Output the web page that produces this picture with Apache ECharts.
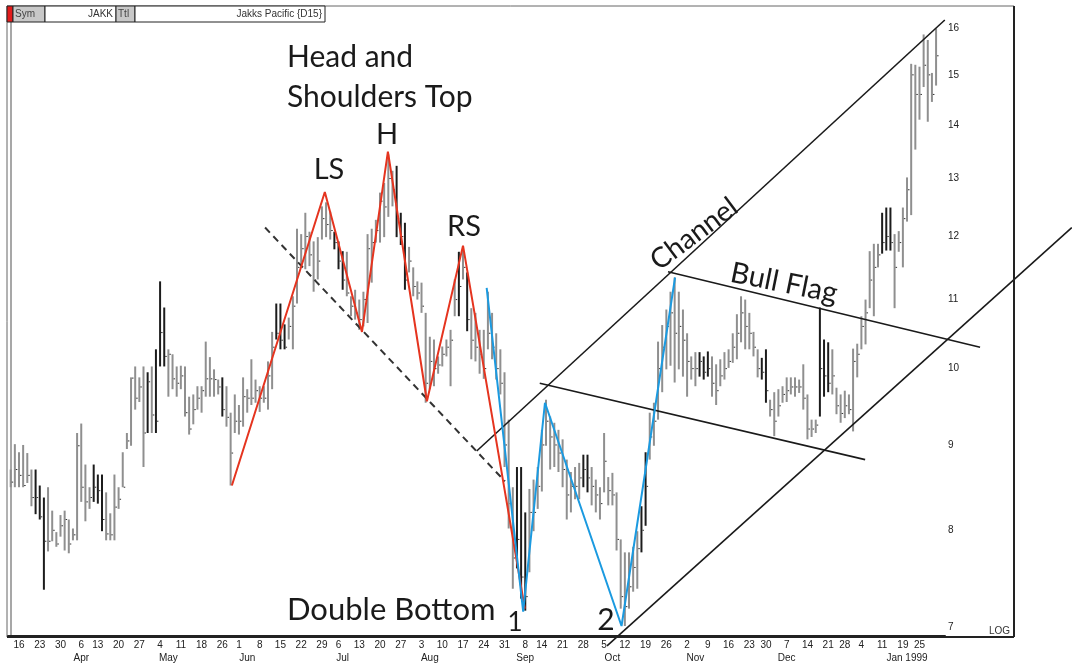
<!DOCTYPE html>
<html><head><meta charset="utf-8">
<script src="https://cdn.jsdelivr.net/npm/echarts@6/dist/echarts.min.js"></script>
<style>html,body{margin:0;padding:0;background:#fff}#c{width:1072px;height:670px}</style>
</head><body><div id="c"></div>
<script>
// ---- data ----
const startDate = '1998-03-12', endDate = '1999-01-29';
const holidays = ['1998-04-10','1998-05-25','1998-07-03','1998-09-07','1998-11-26','1998-12-25','1999-01-01','1999-01-18'];
const highs = [
8.70,9.01,8.91,9.00,8.90,8.70,8.70,8.51,8.37,8.49,
8.22,7.98,8.17,8.22,8.12,8.02,9.15,9.27,8.76,8.49,
8.76,8.64,8.64,8.43,8.19,8.64,8.49,8.91,9.15,9.88,
10.03,9.88,10.03,9.95,10.03,10.27,11.28,10.88,10.27,10.20,
10.03,10.04,10.03,9.62,9.65,9.76,9.76,10.38,10.16,9.99,
9.85,9.88,9.76,9.41,9.65,9.51,9.88,9.72,10.13,9.85,
9.76,9.76,10.10,10.52,10.94,10.94,10.63,10.73,11.05,12.13,
12.04,12.40,12.08,11.92,11.99,12.51,12.58,12.42,12.08,11.92,
11.76,11.75,11.05,11.15,11.00,11.12,12.04,12.13,12.28,12.75,
12.92,13.44,13.14,13.23,12.40,12.23,11.83,11.50,11.28,11.26,
10.80,10.45,10.41,10.17,10.31,10.41,10.55,11.31,11.75,11.79,
11.42,10.87,10.80,10.55,10.55,11.12,10.80,10.50,10.27,9.95,
9.32,8.49,8.73,8.73,8.20,8.47,8.58,8.73,9.19,9.58,
9.36,9.28,9.19,9.07,8.82,8.67,8.73,8.78,8.88,8.88,
8.73,8.58,8.49,9.15,8.61,8.66,8.43,7.90,7.76,7.76,
7.82,7.99,8.27,8.91,9.41,9.54,10.38,10.62,10.85,11.12,
11.34,11.12,10.85,10.50,10.17,10.23,10.23,10.17,10.24,10.17,
10.06,10.13,10.23,10.27,10.50,10.78,11.05,11.00,10.80,10.52,
10.27,10.15,10.27,9.58,9.68,9.72,9.76,9.88,9.88,9.88,
9.85,10.06,9.65,9.32,9.32,10.88,10.41,10.37,10.27,9.74,
9.65,9.70,9.65,10.28,10.35,10.75,11.00,11.76,11.88,11.88,
12.40,12.49,12.49,12.04,12.09,12.49,13.02,15.23,15.21,15.17,
15.86,15.74,15.04,15.99];
const lows = [
8.49,8.49,8.49,8.49,8.54,8.27,8.18,8.12,7.37,7.77,
7.88,7.82,7.93,7.78,7.75,7.89,7.89,8.32,8.10,8.24,
8.32,8.30,7.99,7.89,7.89,7.89,8.24,8.49,8.95,8.99,
9.45,9.55,8.73,9.15,9.15,9.15,10.03,10.03,9.62,9.72,
9.62,9.72,9.36,9.13,9.26,9.45,9.41,9.62,9.62,9.62,
9.65,9.36,9.23,8.51,9.15,9.13,9.23,9.41,9.51,9.54,
9.42,9.54,9.45,9.72,10.41,10.27,10.27,10.41,10.27,10.94,
11.55,11.47,11.52,11.12,11.31,11.95,11.99,11.95,11.79,11.47,
11.15,11.05,10.75,10.70,10.55,10.60,10.65,11.26,11.90,11.90,
11.99,12.33,12.51,11.99,11.86,11.15,11.42,11.05,11.00,10.80,
9.54,9.72,9.76,9.93,10.03,10.17,9.76,10.75,10.75,11.31,
10.53,10.13,10.10,9.93,9.86,10.27,10.13,9.85,9.65,8.73,
8.02,7.38,7.59,7.28,7.16,7.55,7.99,8.24,8.44,8.99,
8.70,8.73,8.67,8.49,8.12,8.20,8.35,8.35,8.49,8.43,
8.28,8.20,8.12,8.43,8.28,8.28,7.78,7.18,7.01,7.18,
7.35,7.38,7.76,8.05,8.82,8.99,9.32,9.68,9.99,10.04,
9.81,9.99,9.89,9.62,9.85,9.76,9.89,9.85,9.89,9.62,
9.51,9.76,9.85,10.01,10.08,10.13,10.37,10.27,10.27,10.17,
9.88,9.85,9.54,9.36,9.11,9.36,9.54,9.55,9.65,9.62,
9.67,9.45,9.07,9.10,9.15,9.36,9.62,9.68,9.65,9.39,
9.28,9.34,9.39,9.17,9.88,10.27,10.34,10.87,10.75,11.50,
11.72,11.77,11.77,10.87,11.75,11.50,12.25,12.36,13.53,14.10,
14.75,14.06,14.45,14.78];
const closes = [
8.55,8.70,8.63,8.51,8.63,8.37,8.37,8.15,7.88,7.88,
8.00,7.85,8.05,8.12,7.85,7.95,8.99,8.49,8.32,8.37,
8.49,8.45,8.12,7.96,7.95,8.26,8.35,8.49,9.05,9.87,
9.60,9.75,9.15,9.82,9.38,9.30,10.51,10.17,10.20,9.86,
9.80,9.90,9.41,9.20,9.45,9.60,9.70,9.86,9.86,9.85,
9.75,9.45,9.35,8.90,9.30,9.30,9.62,9.60,9.60,9.70,
9.60,9.60,9.90,10.30,10.50,10.40,10.30,10.60,10.90,11.50,
11.80,12.00,11.70,11.30,11.60,12.30,12.20,12.10,11.90,11.60,
11.30,11.10,10.90,10.80,10.70,11.00,11.80,11.90,12.10,12.60,
12.50,13.00,12.80,12.30,12.00,11.30,11.60,11.20,11.10,10.90,
9.80,10.10,10.00,10.05,10.20,10.30,10.40,11.00,11.20,11.50,
10.70,10.40,10.30,10.20,10.00,10.50,10.30,10.00,9.80,9.00,
8.30,7.70,7.90,7.50,7.30,8.20,8.20,8.50,9.00,9.30,
9.10,9.00,8.90,8.70,8.40,8.50,8.50,8.60,8.70,8.60,
8.50,8.40,8.30,8.80,8.45,8.40,7.90,7.30,7.20,7.40,
7.60,7.80,8.00,8.50,9.10,9.30,10.00,10.30,10.60,10.80,
10.50,10.60,10.40,10.10,10.00,10.00,10.10,9.95,10.00,9.80,
9.70,9.90,10.00,10.10,10.30,10.50,10.80,10.60,10.50,10.30,
10.00,9.95,9.70,9.45,9.30,9.50,9.65,9.70,9.75,9.75,
9.75,9.60,9.20,9.20,9.25,10.00,9.90,9.80,9.90,9.50,
9.40,9.50,9.45,10.10,10.20,10.60,10.80,11.30,11.50,11.70,
11.90,12.00,11.90,11.50,11.90,12.30,12.80,15.00,14.60,14.60,
15.20,15.00,14.60,15.40];
const downBars = [6,7,8,20,21,22,33,35,36,37,51,64,65,66,78,79,80,93,94,95,108,110,122,123,124,138,139,152,153,166,167,168,181,182,195,196,197,210,211,212];
const priceTicks = [7,8,9,10,11,12,13,14,15,16];
const monthNames = ['Jan','Feb','Mar','Apr','May','Jun','Jul','Aug','Sep','Oct','Nov','Dec'];
const monthLabelDays = ['1998-04-06','1998-05-06','1998-06-03','1998-07-07','1998-08-05','1998-09-08','1998-10-07','1998-11-04','1998-12-07','1999-01-20'];
// pattern lines: [day index, price]
const hsLine = [[53.3,8.51],[75.7,12.76],[84.65,10.52],[90.9,13.49],[100.3,9.56],[109.0,11.85],[123.9,7.18]];
const dbLine = [[114.7,11.18],[123.5,7.15],[128.75,9.54],[147.2,7.01],[160.1,11.34]];
// straight trend lines: [startIndex, startPrice, endIndex, endPrice]
const neckLine = [61.3,12.15,119.1,8.56];
const channelUpper = [112.3,8.925,225.1,16.18];
const channelLower = [143.7,6.82,255.7,12.15];
const flagUpper = [158.4,11.43,233.6,10.30];
const flagLower = [127.5,9.80,205.9,8.82];

// ---- build trading days ----
const dates = [];
(function(){
  let d = new Date(startDate + 'T00:00:00Z'); const e = new Date(endDate + 'T00:00:00Z');
  while (d <= e) {
    const wd = d.getUTCDay(); const s = d.toISOString().slice(0,10);
    if (wd !== 0 && wd !== 6 && holidays.indexOf(s) < 0) dates.push(s);
    d = new Date(d.getTime() + 86400000);
  }
})();
const weekStarts = [];
for (let i = 1; i < dates.length; i++) {
  const a = new Date(dates[i-1]+'T00:00:00Z').getUTCDay(), b = new Date(dates[i]+'T00:00:00Z').getUTCDay();
  if (b < a) weekStarts.push(i);
}
const monthIdx = monthLabelDays.map(s => dates.indexOf(s));
const barData = dates.map((s,i) => [i, highs[i], lows[i], closes[i], downBars.indexOf(i) >= 0 ? 1 : 0]);

const chart = echarts.init(document.getElementById('c'));
const FONT = 'Liberation Sans';
const TXT = 'Lato';
const lineSeries = (data, color, width) => ({
  type:'line', data:data, symbol:'none', clip:false, silent:true, z:5,
  lineStyle:{color:color, width:width}
});
const trendSeries = (seg, color, width, dash) => ({
  type:'custom', data:[seg], clip:false, silent:true, z:5,
  encode:{x:[0,2], y:[1,3]},
  renderItem:function(params, api){
    const a = api.coord([api.value(0), api.value(1)]), b = api.coord([api.value(2), api.value(3)]);
    return {type:'line', shape:{x1:a[0], y1:a[1], x2:b[0], y2:b[1]},
      style:{stroke:color, lineWidth:width, lineDash:dash || null, fill:null}};
  }
});
chart.setOption({
  animation:false,
  grid:{left:8, right:127, top:8, bottom:34},
  xAxis:[{
    type:'value', min:-0.65, max:225.15, position:'bottom',
    axisLine:{show:true, onZero:false, lineStyle:{color:'#222', width:2}},
    axisTick:{show:false}, splitLine:{show:false},
    axisLabel:{customValues:weekStarts, margin:4, color:'#222', fontSize:10, fontFamily:FONT,
      formatter:v => String(parseInt(dates[Math.round(v)].slice(8,10),10))}
  },{
    type:'value', min:-0.65, max:225.15, position:'bottom', offset:13,
    axisLine:{show:false}, axisTick:{show:false}, splitLine:{show:false},
    axisLabel:{customValues:monthIdx, margin:4, color:'#222', fontSize:10, fontFamily:FONT,
      formatter:v => { const s = dates[Math.round(v)]; const m = monthNames[parseInt(s.slice(5,7),10)-1];
        return (s.slice(0,4)==='1999' && m==='Jan') ? 'Jan 1999' : m; }}
  }],
  yAxis:{
    type:'log', min:6.914, max:16.45, position:'right',
    axisLine:{show:true, lineStyle:{color:'#8a8a8a', width:1.5}},
    axisTick:{show:false}, splitLine:{show:false},
    axisLabel:{customValues:priceTicks, margin:3, color:'#222', fontSize:10, fontFamily:FONT, formatter:v => String(Math.round(v))}
  },
  series:[
    {
      type:'custom', xAxisIndex:0, data:barData, z:2,
      encode:{x:0, y:[1,2]},
      renderItem:function(params, api){
        const i = api.value(0);
        const t = api.coord([i, api.value(1)]), b = api.coord([i, api.value(2)]), c = api.coord([i, api.value(3)]);
        const col = api.value(4) ? '#1c1c1c' : '#8f8f8f';
        return {type:'group', children:[
          {type:'line', shape:{x1:t[0], y1:t[1], x2:b[0], y2:b[1]}, style:{stroke:col, lineWidth:2}},
          {type:'line', shape:{x1:c[0]+1, y1:c[1], x2:c[0]+2.5, y2:c[1]}, style:{stroke:'#333', lineWidth:1}}
        ]};
      }
    },
    trendSeries(neckLine, '#333', 2, [7,5]),
    trendSeries(channelUpper, '#1a1a1a', 1.6),
    trendSeries(channelLower, '#1a1a1a', 1.6),
    trendSeries(flagUpper, '#1a1a1a', 1.6),
    trendSeries(flagLower, '#1a1a1a', 1.6),
    lineSeries(hsLine, '#e5341f', 2),
    lineSeries(dbLine, '#1b9ae0', 2)
  ],
  graphic:[
    {type:'rect', shape:{x:7, y:6, width:1007, height:631}, style:{fill:'none', stroke:'#666', lineWidth:1}, z:0},
    {type:'line', shape:{x1:1014, y1:6, x2:1014, y2:637}, style:{stroke:'#222', lineWidth:2}, z:10},
    {type:'line', shape:{x1:7, y1:637, x2:1014, y2:637}, style:{stroke:'#222', lineWidth:2}, z:10},
    // header
    {type:'rect', shape:{x:7, y:6, width:6, height:16}, style:{fill:'#e21b1b', stroke:'#222', lineWidth:1}, z:20},
    {type:'rect', shape:{x:13, y:6, width:32, height:16}, style:{fill:'#c8c8c8', stroke:'#222', lineWidth:1}, z:20},
    {type:'text', x:15, y:14, style:{text:'Sym', font:'10px '+FONT, fill:'#444', textVerticalAlign:'middle'}, z:21},
    {type:'rect', shape:{x:45, y:6, width:71, height:16}, style:{fill:'#fff', stroke:'#222', lineWidth:1}, z:20},
    {type:'text', x:113, y:14, style:{text:'JAKK', font:'10px '+FONT, fill:'#333', textAlign:'right', textVerticalAlign:'middle'}, z:21},
    {type:'rect', shape:{x:116, y:6, width:19, height:16}, style:{fill:'#c8c8c8', stroke:'#222', lineWidth:1}, z:20},
    {type:'text', x:118, y:14, style:{text:'Ttl', font:'10px '+FONT, fill:'#444', textVerticalAlign:'middle'}, z:21},
    {type:'rect', shape:{x:135, y:6, width:190, height:16}, style:{fill:'#fff', stroke:'#222', lineWidth:1}, z:20},
    {type:'text', x:322, y:14, style:{text:'Jakks Pacific {D15}', font:'10px '+FONT, fill:'#333', textAlign:'right', textVerticalAlign:'middle'}, z:21},
    {type:'text', x:1010, y:631, style:{text:'LOG', font:'10px '+FONT, fill:'#333', textAlign:'right', textVerticalAlign:'middle'}, z:21},
    // annotations
    {type:'text', x:287, y:57, style:{text:'Head and', font:'30px '+TXT, fill:'#1a1a1a', textVerticalAlign:'middle'}, z:30},
    {type:'text', x:287, y:97, style:{text:'Shoulders Top', font:'30px '+TXT, fill:'#1a1a1a', textVerticalAlign:'middle'}, z:30},
    {type:'text', x:329, y:170, style:{text:'LS', font:'29px '+TXT, fill:'#1a1a1a', textAlign:'center', textVerticalAlign:'middle'}, z:30},
    {type:'text', x:387, y:135, style:{text:'H', font:'29px '+TXT, fill:'#1a1a1a', textAlign:'center', textVerticalAlign:'middle'}, z:30},
    {type:'text', x:464, y:227, style:{text:'RS', font:'29px '+TXT, fill:'#1a1a1a', textAlign:'center', textVerticalAlign:'middle'}, z:30},
    {type:'text', x:694, y:234, rotation:0.64, style:{text:'Channel', font:'28px '+TXT, fill:'#1a1a1a', textAlign:'center', textVerticalAlign:'middle'}, z:30},
    {type:'text', x:784, y:283, rotation:-0.2, style:{text:'Bull Flag', font:'29px '+TXT, fill:'#1a1a1a', textAlign:'center', textVerticalAlign:'middle'}, z:30},
    {type:'text', x:287, y:610, style:{text:'Double Bottom', font:'31px '+TXT, fill:'#1a1a1a', textVerticalAlign:'middle'}, z:30},
    {type:'text', x:515, y:623, style:{text:'1', font:'26px '+TXT, fill:'#1a1a1a', textAlign:'center', textVerticalAlign:'middle'}, z:30},
    {type:'text', x:606, y:620, style:{text:'2', font:'30px '+TXT, fill:'#1a1a1a', textAlign:'center', textVerticalAlign:'middle'}, z:30}
  ]
});
</script>
</body></html>
